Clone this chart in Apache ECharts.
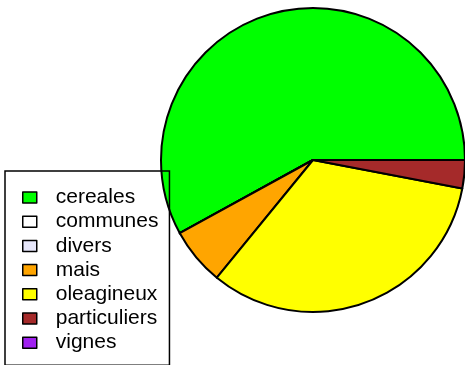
<!DOCTYPE html>
<html>
<head>
<meta charset="utf-8">
<script src="https://cdn.jsdelivr.net/npm/echarts@6/dist/echarts.min.js"></script>
<style>
  html, body { margin: 0; padding: 0; background: #fff; }
  #chart { width: 465px; height: 365px; }
</style>
</head>
<body>
<div id="chart"></div>
<script>
// Crop categories and their shares of the surface
const categories = ['cereales', 'communes', 'divers', 'mais', 'oleagineux', 'particuliers', 'vignes'];
const shares = [58.0, 0, 0, 6.1, 32.9, 3.0, 0];
const colors = ['#00ff00', '#ffffff', '#e6e6fa', '#ffa500', '#ffff00', '#a52a2a', '#a020f0'];

const chart = echarts.init(document.getElementById('chart'), null, { renderer: 'canvas' });

chart.setOption({
  animation: false,
  backgroundColor: '#ffffff',
  legend: {
    orient: 'vertical',
    left: 5,
    top: 171,
    height: 400,
    padding: [16, 11, 12, 17],
    borderColor: '#000',
    borderWidth: 1.5,
    itemWidth: 14,
    itemHeight: 11,
    itemGap: 3.2,
    icon: 'rect',
    itemStyle: { borderColor: '#000', borderWidth: 1.5 },
    textStyle: {
      fontFamily: 'Liberation Sans, Arial, sans-serif',
      fontSize: 21,
      lineHeight: 21,
      color: '#000',
      padding: [0, 0, 0, 14]
    },
    data: categories
  },
  series: [{
    type: 'pie',
    center: [313, 160],
    radius: 152,
    startAngle: 0,
    clockwise: false,
    avoidLabelOverlap: false,
    label: { show: false },
    labelLine: { show: false },
    emphasis: { disabled: true },
    itemStyle: { borderColor: '#000', borderWidth: 2 },
    data: categories.map((name, i) => ({
      name: name,
      value: shares[i],
      itemStyle: { color: colors[i] }
    }))
  }]
});
</script>
</body>
</html>
